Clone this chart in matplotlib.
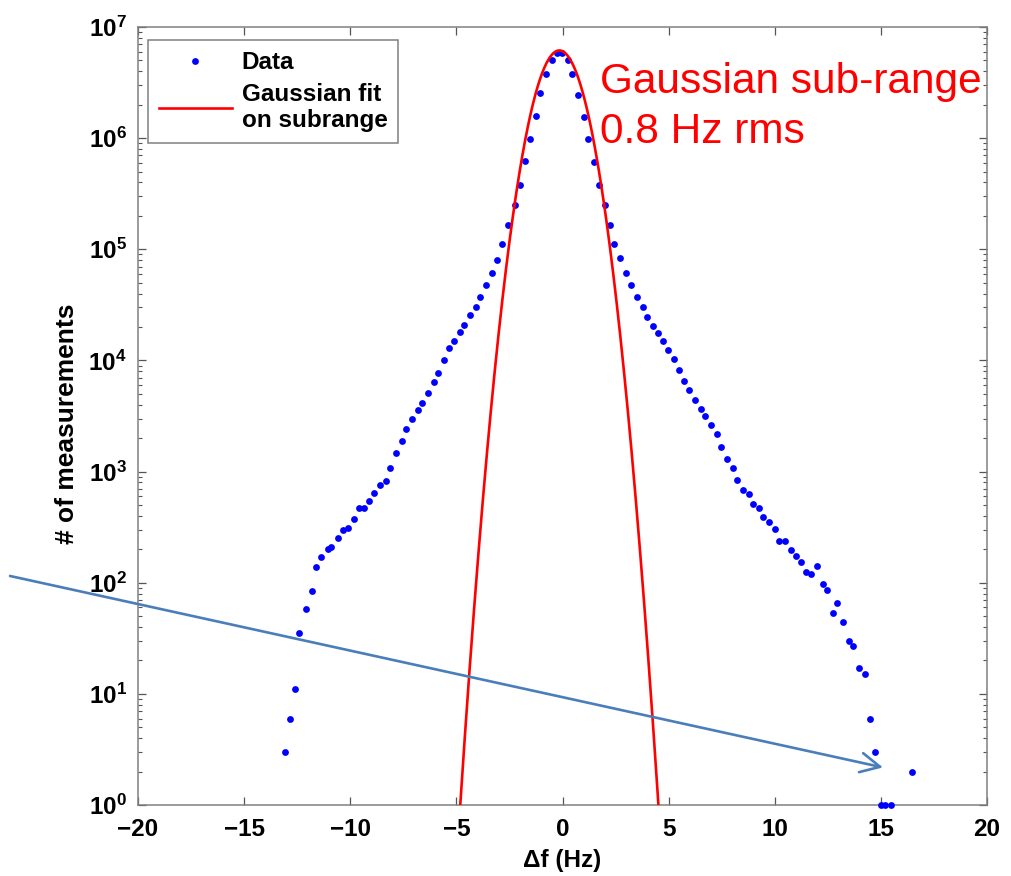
import numpy as np
import matplotlib

matplotlib.use("Agg")
import matplotlib.pyplot as plt
from matplotlib.patches import FancyArrowPatch, ArrowStyle
from matplotlib.ticker import FixedLocator, LogLocator, FuncFormatter, NullFormatter

plt.rcParams["font.family"] = ["Liberation Sans", "DejaVu Sans"]
plt.rcParams["mathtext.fontset"] = "custom"
plt.rcParams["mathtext.rm"] = "Liberation Sans:bold"
plt.rcParams["mathtext.bf"] = "Liberation Sans:bold"
plt.rcParams["mathtext.it"] = "Liberation Sans:bold"

# histogram of frequency offsets: bin centre (Hz) and number of measurements
df_hz = [
    -13.09, -12.85, -12.59, -12.40, -12.08, -11.82, -11.63, -11.36, -11.06, -10.91,
    -10.59, -10.33, -10.11, -9.82, -9.57, -9.37, -9.10, -8.88, -8.61, -8.33,
    -8.11, -7.86, -7.58, -7.37, -7.08, -6.81, -6.61, -6.32, -6.05, -5.85,
    -5.60, -5.36, -5.10, -4.83, -4.63, -4.34, -4.06, -3.87, -3.59, -3.31,
    -3.10, -2.84, -2.55, -2.26, -1.99, -1.78, -1.53, -1.23, -1.05, -0.76,
    -0.48, -0.26, -0.02, 0.24, 0.46, 0.73, 1.01, 1.20, 1.48, 1.74,
    1.99, 2.25, 2.44, 2.72, 3.01, 3.21, 3.50, 3.78, 3.97, 4.26,
    4.51, 4.73, 4.98, 5.27, 5.47, 5.74, 5.96, 6.24, 6.51, 6.70,
    7.00, 7.27, 7.48, 7.74, 8.02, 8.24, 8.50, 8.77, 8.99, 9.27,
    9.46, 9.74, 10.03, 10.21, 10.48, 10.75, 10.99, 11.24, 11.49, 11.72,
    11.98, 12.26, 12.48, 12.74, 12.92, 13.23, 13.51, 13.69, 13.98, 14.24,
    14.47, 14.74, 14.99, 15.21, 15.49, 16.45,
]
counts = [
    3, 6, 11, 35, 58, 84, 138, 169, 202, 208,
    253, 296, 311, 377, 473, 473, 540, 646, 757, 828,
    1084, 1469, 1872, 2431, 2992, 3584, 4169, 5128, 6400, 7660,
    10090, 12860, 15060, 18040, 20980, 25480, 30470, 37480, 47780, 60850,
    80130, 112300, 167000, 250400, 379000, 623000, 982000, 1590000, 2530000, 3760000,
    5050000, 5880000, 5880000, 5050000, 3760000, 2430000, 1540000, 982000, 607000, 379000,
    250000, 167000, 112000, 83000, 61200, 47800, 37500, 30500, 24400, 20400,
    17500, 15000, 12500, 10400, 8200, 6580, 5390, 4400, 3680, 3160,
    2610, 2180, 1660, 1300, 1080, 845, 687, 625, 511, 473,
    390, 352, 306, 236, 236, 198, 174, 154, 125, 120,
    141, 98, 86, 53, 66, 44, 30, 27, 17, 15,
    6, 3, 1, 1, 1, 2,
]

# gaussian fitted on the central sub-range
FIT_PEAK = 6.15e6
FIT_CENTER = -0.15
FIT_RMS = 0.835

x_ticks = [-20, -15, -10, -5, 0, 5, 10, 15, 20]
y_decades = [0, 1, 2, 3, 4, 5, 6, 7]

GRAY = "#808080"
ARROW_BLUE = "#4a7ebb"

fig = plt.figure(figsize=(10.12, 8.76), dpi=100, facecolor="white")
ax = fig.add_axes([0.1364, 0.0810, 0.8389, 0.8882])

ax.plot(df_hz, counts, "o", color="#0000ff", ms=4.9, mew=0, clip_on=False,
        label="Data", zorder=3)

xf = np.linspace(-6, 6, 601)
yf = FIT_PEAK * np.exp(-0.5 * ((xf - FIT_CENTER) / FIT_RMS) ** 2)
ax.plot(xf, yf, color="#ff0000", lw=1.9, label="Gaussian fit\non subrange", zorder=4)

ax.set_yscale("log")
ax.set_xlim(-20, 20)
ax.set_ylim(1, 1e7)

ax.xaxis.set_major_locator(FixedLocator(x_ticks))
ax.xaxis.set_major_formatter(FuncFormatter(lambda v, p: f"{v:g}".replace("-", "\u2212")))
ax.yaxis.set_major_locator(FixedLocator([10.0 ** k for k in y_decades]))
ax.yaxis.set_minor_locator(LogLocator(base=10, subs=np.arange(2, 10), numticks=100))
ax.yaxis.set_minor_formatter(NullFormatter())
ax.yaxis.set_major_formatter(FuncFormatter(lambda v, p: r"$10^{%d}$" % round(np.log10(v))))

ax.tick_params(which="both", direction="in", top=True, right=True, color="#555555")
ax.tick_params(which="major", length=6, width=0.9, labelsize=17.5)
ax.tick_params(which="minor", length=3, width=0.8)
ax.tick_params(axis="x", pad=9)
ax.tick_params(axis="y", pad=8)
for lab in ax.get_xticklabels() + ax.get_yticklabels():
    lab.set_fontweight("bold")

for sp in ax.spines.values():
    sp.set_color(GRAY)
    sp.set_linewidth(1.1)

ax.set_xlabel("\u0394f (Hz)", fontsize=17.5, fontweight="bold", labelpad=6)
ax.set_ylabel("# of measurements", fontsize=19, fontweight="bold")
ax.yaxis.set_label_coords(-0.07, 0.49)

leg = ax.legend(loc="upper left", bbox_to_anchor=(0.0118, 0.983), borderaxespad=0,
                fancybox=False, edgecolor=GRAY, framealpha=1, numpoints=1,
                prop={"weight": "bold", "size": 17.5}, handlelength=3.0,
                handletextpad=0.4, borderpad=0.45, labelspacing=0.35)
leg.get_frame().set_linewidth(1.1)

# annotation text for the fit width
fig.text(0.593, 0.8935, "Gaussian sub-range", color="#ff0000", fontsize=30.5,
         ha="left", va="baseline")
fig.text(0.593, 0.8364, f"{FIT_RMS:.1f} Hz rms", color="#ff0000", fontsize=30.5,
         ha="left", va="baseline")

# pointer arrow drawn across the whole figure
arrow = FancyArrowPatch((0.0099, 0.3425), (0.8725, 0.1239), transform=fig.transFigure,
                        arrowstyle=ArrowStyle("->", head_length=14, head_width=7),
                        mutation_scale=1, color=ARROW_BLUE, lw=1.9,
                        shrinkA=0, shrinkB=0, zorder=10)
fig.add_artist(arrow)

fig.savefig("out.png", dpi=100)
